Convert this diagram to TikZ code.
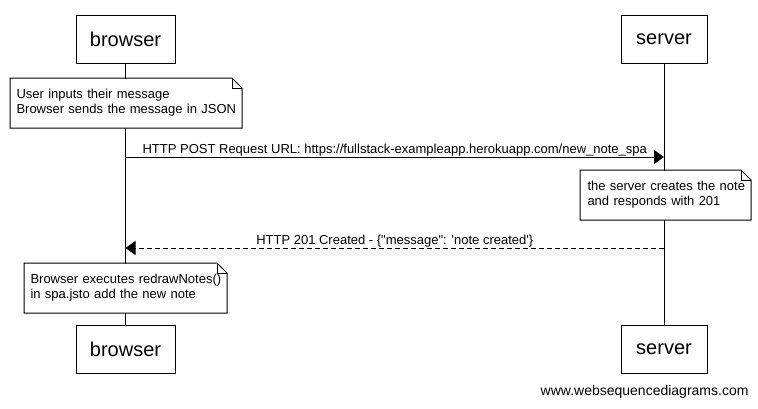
\documentclass[tikz,border=0pt]{standalone}
\usepackage{fontspec}
\setmainfont{Liberation Sans}
\usetikzlibrary{arrows.meta}

\begin{document}
\begin{tikzpicture}[x=0.75pt, y=-0.75pt, line width=0.75pt,
		actor/.style={draw, fill=white, minimum height=36pt, font=\fontsize{15}{18}\selectfont},
		note/.style={fill=white, anchor=north west, align=left, minimum height=36.75pt, inner xsep=4.5pt, inner ysep=0pt, font=\fontsize{9.75}{11.3}\selectfont},
		msg/.style={-{Triangle[length=7.5pt, width=10.5pt]}},
		reply/.style={msg, dash pattern=on 3.75pt off 2.25pt},
		lbl/.style={above=0.5pt, inner sep=0pt, font=\fontsize{9.75}{11.3}\selectfont}]
			\useasboundingbox (0,0) rectangle (758,408);
			% participants
			\node[actor, minimum width=74.25pt] (b1) at (125.5,39.5) {browser};
			\node[actor, minimum width=64.5pt] (s1) at (664,39.5) {server};
			\node[actor, minimum width=74.25pt] (b2) at (125.5,349.5) {browser};
			\node[actor, minimum width=64.5pt] (s2) at (664,349.5) {server};
			\draw (b1) -- (b2);
			\draw (s1) -- (s2);
			% notes
			\node[note, text width=164.25pt] (n1) at (10,78) {\mbox{User inputs their message}\\\mbox{Browser sends the message in JSON}};
			\node[note, text width=117pt, inner xsep=5.25pt] (n2) at (580,170) {\mbox{the server creates the note}\\\mbox{and responds with 201}};
			\node[note, text width=142.5pt] (n3) at (24,263) {\mbox{Browser executes redrawNotes()}\\\mbox{in spa.jsto add the new note}};
			\foreach \n in {n1,n2,n3} {
				\draw (\n.south west) -- (\n.north west) -- ([xshift=-7.5pt]\n.north east) -- ([yshift=-7.5pt]\n.north east) -- (\n.south east) -- cycle;
				\draw ([xshift=-7.5pt]\n.north east) |- ([yshift=-7.5pt]\n.north east);
			}
			% messages
			\coordinate (bp) at (125.5,157);
			\coordinate (sp) at (664,157);
			\coordinate (sr) at (664,248);
			\coordinate (br) at (125.5,248);
			\draw[msg] (bp) -- (sp) node[midway, lbl] (l1) {HTTP POST Request URL: https://fullstack-exampleapp.herokuapp.com/new\_note\_spa};
			\draw[reply] (sr) -- (br) node[midway, lbl] (l2) {HTTP 201 Created - \{\textquotedbl message\textquotedbl: \textquotesingle note created\textquotesingle\}};
			\node[anchor=east, inner sep=0pt, font=\fontsize{10.5}{12}\selectfont] (wsd) at (749,392) {www.websequencediagrams.com};
		\end{tikzpicture}
\end{document}
